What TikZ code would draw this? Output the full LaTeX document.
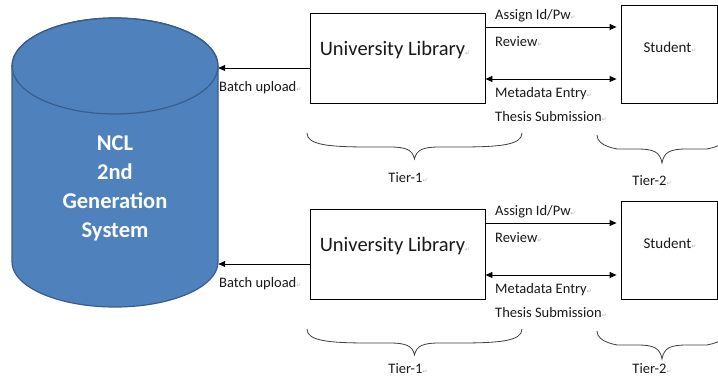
\documentclass[tikz,border=0pt]{standalone}
\usepackage{fontspec}
\setmainfont{Carlito}
\newfontfamily\dejavu{DejaVu Sans}
\usetikzlibrary{arrows.meta,calc}
\definecolor{cylfill}{HTML}{4F81BD}
\definecolor{cylline}{HTML}{385D8A}
\definecolor{txt}{HTML}{1A1A1A}
\newcommand\pmark{{\dejavu\fontsize{6}{6}\selectfont\color{gray!60}↵}}
\newcommand\drawbrace[4]{%
  \draw[bracestyle] (#1,#3) .. controls (#1,#3+12) and (#1+22,#3+14) .. ({(#1+#2)/2-45},#3+14)
    -- ({(#1+#2)/2-25},#3+14) .. controls ({(#1+#2)/2-8},#3+14) and ({(#1+#2)/2-2},#3+17) .. ({(#1+#2)/2},#4)
    .. controls ({(#1+#2)/2+2},#3+17) and ({(#1+#2)/2+8},#3+14) .. ({(#1+#2)/2+25},#3+14)
    -- ({(#1+#2)/2+45},#3+14) .. controls (#2-22,#3+14) and (#2,#3+12) .. (#2,#3);}
\begin{document}
\begin{tikzpicture}[x=1pt,y=-1pt,
  box/.style={draw=black,line width=0.9pt,fill=white,inner sep=0pt},
  lbl/.style={anchor=west,inner sep=0pt,text=txt,font=\fontsize{14.5}{16}\selectfont},
  arr/.style={line width=0.9pt,-{Triangle[length=7pt,width=6pt]}},
  darr/.style={line width=0.9pt,{Triangle[length=7pt,width=6pt]}-{Triangle[length=7pt,width=6pt]}},
  bracestyle/.style={draw=black!75,line width=0.8pt},
  tier/.style={inner sep=0pt,text=txt,font=\fontsize{14.5}{16}\selectfont}]
\useasboundingbox (0,0) rectangle (718,379);
\clip (0,0) rectangle (718,379);
\fill[white] (0,0) rectangle (718,379);
% cylinder
\filldraw[fill=cylfill,draw=cylline,line width=1.2pt]
  (12,66) -- (12,262) arc[start angle=180,end angle=360,x radius=103pt,y radius=45pt]
  -- (218,66) arc[start angle=0,end angle=180,x radius=103pt,y radius=48pt] -- cycle;
\draw[cylline,line width=1.2pt] (115,66) ellipse[x radius=103pt,y radius=48pt];
\node[minimum width=206pt,inner sep=0pt,align=center,text=white,
  font=\bfseries\fontsize{22.5}{29}\selectfont] (ncl) at (115,188) {NCL\\2nd\\Generation\\System};
\foreach \dy/\s/\ta/\tb in {0/a/178/181,196/b/173/173}{
  \begin{scope}[yshift=-\dy pt]
  \node[box,minimum width=175pt,minimum height=90pt] (lib\s) at (397.5,58) {};
  \node[text=txt,inner sep=0pt,font=\fontsize{20.5}{24}\selectfont] (libt\s) at (395,50) {University Library\pmark};
  \node[box,minimum width=96pt,minimum height=98pt] (stu\s) at (669,54) {};
  \node[text=txt,inner sep=0pt,font=\fontsize{15}{18}\selectfont] (stut\s) at (670,47) {Student\pmark};
  \coordinate (bu\s) at (0,68);
  \coordinate (as\s) at (0,27);
  \coordinate (me\s) at (0,79);
  \draw[arr] (lib\s.west |- bu\s) -- (ncl.east |- bu\s);
  \node[lbl] (blbl\s) at (219,88) {Batch upload\pmark};
  \draw[arr] (lib\s.east |- as\s) -- ([xshift=-4pt]stu\s.west |- as\s);
  \draw[darr] (lib\s.east |- me\s) -- ([xshift=-4pt]stu\s.west |- me\s);
  \node[lbl] (l1\s) at (495,16) {Assign Id/Pw\pmark};
  \node[lbl] (l2\s) at (495,42) {Review\pmark};
  \node[lbl] (l3\s) at (495,94) {Metadata Entry\pmark};
  \node[lbl] (l4\s) at (495,117) {Thesis Submission\pmark};
  \drawbrace{307}{522}{133}{159}
  \drawbrace{597}{727}{135}{163}
  \node[tier] (t1\s) at (408,\ta) {Tier-1\pmark};
  \node[tier] (t2\s) at (652,\tb) {Tier-2\pmark};
  \end{scope}
}
\end{tikzpicture}
\end{document}
